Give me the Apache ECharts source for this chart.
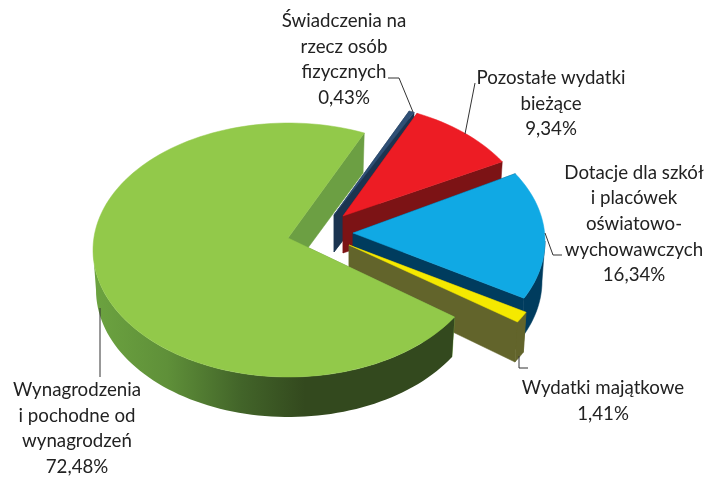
<!DOCTYPE html>
<html><head><meta charset="utf-8">
<style>html,body{margin:0;padding:0;background:#fff}#c{width:704px;height:477px}</style>
<script src="https://cdn.jsdelivr.net/npm/echarts@6/dist/echarts.min.js"></script>
</head><body><div id="c"></div>
<script>
const categories = ['Świadczenia na\nrzecz osób\nfizycznych','Pozostałe wydatki\nbieżące','Dotacje dla szkół\ni placówek\noświatowo-\nwychowawczych','Wydatki majątkowe','Wynagrodzenia\ni pochodne od\nwynagrodzeń'];
const percents = [0.43, 9.34, 16.34, 1.41, 72.48];

const topColors  = ['#2f4f75','#ed1c24','#10a9e4','#f5e900','#92c94a'];
const wallColors = ['#1b3450','#7c1315','#003c5e','#62642b',null];
const cutColors  = ['#1b3450','#7c1315','#003c5e','#62642b','#6c9f43'];
const explode    = [[45,-22],[48,-21],[61,-9],[63,5],[0,0]];
const apexes     = [[334,215],[343,216],[353,233],[349,245],[288,238]];
const labelPos   = [[344,59.5],[551,103.5],[634,224],[603,401],[77,428.5]];
const leaders    = [
  [[388,78],[399,78],[413,112]],
  [[475,83],[465,134]],
  [[545,233],[553,255],[562,255]],
  [[519,356],[519,368],[528,368]],
  [[100,308],[100,377]]
];
const pie = {cx:288.5, cy:250, rx:195.5, ry:127, depth:40, rxBottom:192.5, startDeg:-67.2};
const fmt = v => v.toFixed(2).replace('.',',') + '%';

function angleRange(i){
  let s = 0; for(let k=0;k<i;k++) s += percents[k];
  const total = percents.reduce((a,b)=>a+b,0);
  const a0 = pie.startDeg + s/total*360;
  return [a0, a0 + percents[i]/total*360];
}
function rim(i,deg,bottom){
  const t = deg*Math.PI/180, o = explode[i];
  return [pie.cx+o[0]+(bottom?pie.rxBottom:pie.rx)*Math.cos(t), pie.cy+o[1]+(bottom?pie.depth:0)+pie.ry*Math.sin(t)];
}
function arc(i,a0,a1,bottom){
  const n = Math.max(2,Math.ceil(Math.abs(a1-a0)/2)), pts=[];
  for(let k=0;k<=n;k++) pts.push(rim(i,a0+(a1-a0)*k/n,bottom));
  return pts;
}
function poly(points,fill,edge){return {type:'polygon',shape:{points},style:{fill,stroke:edge?fill:null,lineWidth:edge?0.5:0}};}

function renderItem(params){
  const i = params.dataIndex, [a0,a1] = angleRange(i), ap = apexes[i];
  const apB = [ap[0], ap[1]+pie.depth-3];
  const kids = [];
  const c = cutColors[i];
  kids.push(poly([ap,rim(i,a0),rim(i,a0,true),apB],c,true));
  kids.push(poly([ap,rim(i,a1),rim(i,a1,true),apB],c,true));
  // only the part of the outer wall that faces the viewer
  const w0 = Math.max(a0,0), w1 = Math.min(a1,180);
  if(w1>w0){
    const top = arc(i,w0,w1,false), bot = arc(i,w0,w1,true).reverse();
    const wall = wallColors[i] || new echarts.graphic.LinearGradient(93,0,305,0,[
      {offset:0,color:'#6ca340'},{offset:0.35,color:'#5f9039'},{offset:0.7,color:'#426429'},{offset:1,color:'#33491e'}
    ],true);
    kids.push(poly(top.concat(bot),wall,!!wallColors[i]));
  }
  kids.push(poly([ap].concat(arc(i,a0,a1,false)),topColors[i],true));
  return {type:'group',children:kids};
}
function renderLabels(params){
  const i = params.dataIndex, kids = [];
  kids.push({type:'polyline',shape:{points:leaders[i]},style:{stroke:'#333',lineWidth:1,fill:null}});
  kids.push({type:'text',style:{text:categories[i]+'\n'+fmt(percents[i]),x:labelPos[i][0],y:labelPos[i][1],
    textAlign:'center',textVerticalAlign:'middle',font:'18.7px Lato',lineHeight:25.7,fill:'#222'}});
  return {type:'group',children:kids};
}
const chart = echarts.init(document.getElementById('c'),null,{renderer:'canvas'});
chart.setOption({
  animation:false,
  backgroundColor:'#fff',
  series:[
    {type:'custom',coordinateSystem:'none',silent:true,renderItem,data:percents.map((v,i)=>[i,v]),z:2},
    {type:'custom',coordinateSystem:'none',silent:true,renderItem:renderLabels,data:percents.map((v,i)=>[i,v]),z:3}
  ]
});
</script></body></html>
